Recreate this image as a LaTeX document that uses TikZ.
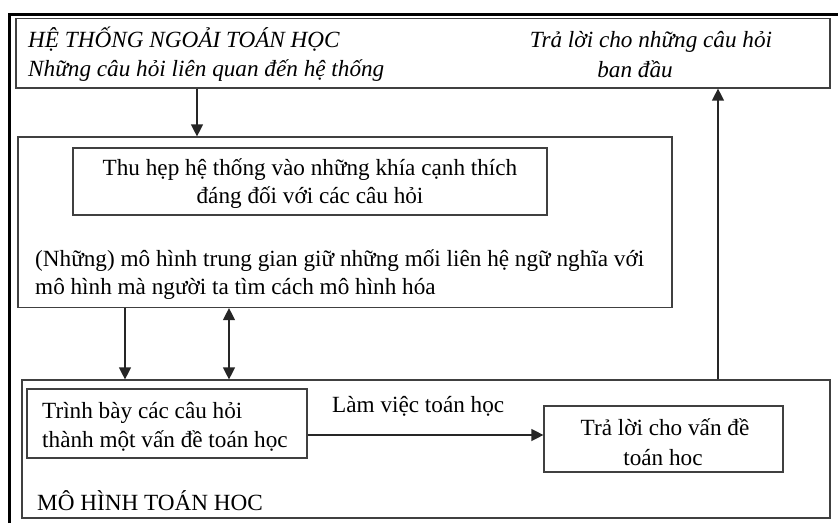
\documentclass[tikz,border=0pt]{standalone}
\usepackage{fontspec}
\setmainfont{Liberation Serif}
\usetikzlibrary{positioning}
\usetikzlibrary{arrows.meta}
\tikzset{
    box/.style = {rectangle, draw=black!75, line width=1.2pt, inner sep=0pt},
    txt/.style = {inner sep=0pt, font=\fontsize{23.2}{28}\selectfont},
    txti/.style = {inner sep=0pt, font=\fontsize{23.2}{28}\selectfont\itshape},
    edgen/.style = {-{Triangle[width=12pt,length=12pt]}, line width=1.3pt, draw=black!85},
    edged/.style = {{Triangle[width=12pt,length=12pt]}-{Triangle[width=12pt,length=12pt]}, line width=1.3pt, draw=black!85},
    edgel/.style = {line width=3pt, draw=black}, % page frame
}

\begin{document}
\begin{tikzpicture}[x=1pt,y=-1pt]
\useasboundingbox (0,0) rectangle (838,523);
%
\path[edgel] (9,523) -- (9,14.5) -- (838,14.5);
%
\node[box, minimum width=814pt, minimum height=69.5pt] at (423, 53.25) (sys) {};
\node[box, minimum width=654pt, minimum height=170.5pt] at (345, 222.25) (inter) {};
\node[box, minimum width=474pt, minimum height=67pt] at (310, 181.5) (narrow) {};
\node[box, minimum width=808pt, minimum height=138pt] at (426, 449) (math) {};
\node[box, minimum width=280pt, minimum height=69pt] at (167, 423.5) (formul) {};
\node[box, minimum width=239pt, minimum height=66pt] at (663.5, 439) (answer) {};
%
\node[txti, anchor=base west] at (28, 47) (title) {HỆ THỐNG NGOẢI TOÁN HỌC};
\node[txti, anchor=base west] at (28, 76) (ques) {Những câu hỏi liên quan đến hệ thống};
\node[txti, anchor=base] at (651, 47) (reply1) {Trả lời cho những câu hỏi};
\node[txti, anchor=base] at (635, 77) (reply2) {ban đầu};
\node[txt, anchor=base] at (310, 175) (narrow1) {Thu hẹp hệ thống vào những khía cạnh thích};
\node[txt, anchor=base] at (310, 203) (narrow2) {đáng đối với các câu hỏi};
\node[txt, anchor=base west] at (35, 266) (mid1) {(Những) mô hình trung gian giữ những mối liên hệ ngữ nghĩa với};
\node[txt, anchor=base west] at (35, 294) (mid2) {mô hình mà người ta tìm cách mô hình hóa};
\node[txt, anchor=base west] at (42, 418) (formul1) {Trình bày các câu hỏi};
\node[txt, anchor=base west] at (42, 447) (formul2) {thành một vấn đề toán học};
\node[txt, anchor=base west] at (332, 412) (work) {Làm việc toán học};
\node[txt, anchor=base] at (665, 435) (answer1) {Trả lời cho vấn đề};
\node[txt, anchor=base] at (663, 465) (answer2) {toán hoc};
\node[txt, anchor=base west] at (37, 510) (mathlbl) {MÔ HÌNH TOÁN HOC};
%
\coordinate (xa) at (197, 0);
\coordinate (xb) at (125, 0);
\coordinate (xc) at (229, 0);
\coordinate (xd) at (718, 0);
\coordinate (ya) at (0, 435);
%
\draw[edgen] (xa |- sys.south) -- (xa |- inter.north);
\draw[edgen] (xb |- inter.south) -- (xb |- math.north);
\draw[edged] (xc |- inter.south) -- (xc |- math.north);
\draw[edgen] (xd |- math.north) -- (xd |- sys.south);
\draw[edgen] (formul.east |- ya) -- (answer.west |- ya);

\end{tikzpicture}
\end{document}
